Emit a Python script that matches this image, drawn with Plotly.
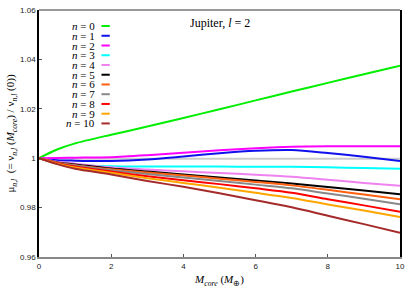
import plotly.graph_objects as go

# Data
m_core = [0, 0.5, 1, 2, 3, 4, 5, 6, 7, 8, 9, 10]
mu_n0 = [1.0, 1.0035, 1.0060, 1.0095, 1.0128, 1.0163, 1.0198, 1.0234, 1.0270, 1.0305, 1.0340, 1.0374]
mu_n1 = [1.0, 0.9992, 0.9990, 0.9989, 0.9995, 1.0007, 1.0020, 1.0030, 1.0033, 1.0021, 1.0006, 0.9989]
mu_n2 = [1.0, 1.0001, 1.0002, 1.0004, 1.0012, 1.0022, 1.0032, 1.0040, 1.0046, 1.0048, 1.0048, 1.0048]
mu_n3 = [1.0, 0.9980, 0.9972, 0.9967, 0.9966, 0.9966, 0.9966, 0.9965, 0.9965, 0.9963, 0.9960, 0.9957]
mu_n4 = [1.0, 0.9986, 0.9978, 0.9963, 0.9954, 0.9947, 0.9940, 0.9933, 0.9925, 0.9913, 0.9900, 0.9888]
mu_n5 = [1.0, 0.9983, 0.9975, 0.9958, 0.9946, 0.9934, 0.9922, 0.9910, 0.9898, 0.9883, 0.9869, 0.9854]
mu_n6 = [1.0, 0.9982, 0.9972, 0.9955, 0.9942, 0.9930, 0.9917, 0.9904, 0.9890, 0.9872, 0.9853, 0.9834]
mu_n7 = [1.0, 0.9981, 0.9970, 0.9951, 0.9936, 0.9922, 0.9908, 0.9893, 0.9878, 0.9857, 0.9836, 0.9814]
mu_n8 = [1.0, 0.9980, 0.9966, 0.9946, 0.9927, 0.9911, 0.9895, 0.9878, 0.9860, 0.9834, 0.9809, 0.9783]
mu_n9 = [1.0, 0.9978, 0.9962, 0.9941, 0.9919, 0.9900, 0.9880, 0.9860, 0.9839, 0.9813, 0.9788, 0.9762]
mu_n10 = [1.0, 0.9976, 0.9957, 0.9934, 0.9908, 0.9884, 0.9858, 0.9830, 0.9801, 0.9767, 0.9733, 0.9698]
reference_x = [0, 10]
reference_y = [0.9998, 0.9998]

series = [mu_n0, mu_n1, mu_n2, mu_n3, mu_n4, mu_n5, mu_n6, mu_n7, mu_n8, mu_n9, mu_n10]
labels = ["0", "1", "2", "3", "4", "5", "6", "7", "8", "9", "10"]
colors = ["#00ee00", "#1010ee", "#ff00ff", "#00ffff", "#ee82ee", "#000000",
          "#ff6010", "#888888", "#ff0000", "#ffa500", "#a52a2a"]

x_ticks = [0, 2, 4, 6, 8, 10]
y_ticks = [0.96, 0.98, 1.0, 1.02, 1.04, 1.06]
y_ticklabels = ["0.96", "0.98", "1", "1.02", "1.04", "1.06"]

fig = go.Figure()
fig.add_trace(go.Scatter(x=reference_x, y=reference_y, mode="lines",
                         line=dict(color="#cccccc", width=2), showlegend=False))
for vals, col in zip(series, colors):
    fig.add_trace(go.Scatter(x=m_core, y=vals, mode="lines",
                             line=dict(color=col, width=2, shape="spline", smoothing=0.8),
                             showlegend=False))

serif = "Liberation Serif"
sans = "Liberation Sans"

annotations = []
shapes = []
# custom gnuplot-style legend (sample line to the right of the label)
for i, (lab, col) in enumerate(zip(labels, colors)):
    py = 26 + 9.73 * i
    yp = (256.7 - py) / 246.7
    annotations.append(dict(xref="paper", yref="paper", x=0.162, y=yp,
                            xanchor="right", yanchor="middle", showarrow=False,
                            text="<i>n</i> = " + lab,
                            font=dict(family=serif, size=11, color="black")))
    shapes.append(dict(type="line", xref="paper", yref="paper",
                       x0=0.173, x1=0.196, y0=yp, y1=yp,
                       line=dict(color=col, width=2)))

annotations.append(dict(xref="paper", yref="paper", x=0.501, y=(256.7 - 23) / 246.7,
                        xanchor="center", yanchor="middle", showarrow=False,
                        text="Jupiter, <i>l</i> = 2",
                        font=dict(family=serif, size=12, color="black")))
shapes.append(dict(type="line", xref="paper", yref="paper", x0=0, x1=1, y0=1, y1=1,
                   line=dict(color="#333333", width=1)))

fig.update_layout(
    template="none",
    width=415, height=291,
    margin=dict(l=39, r=15, t=10, b=34, autoexpand=False),
    plot_bgcolor="white", paper_bgcolor="white",
    annotations=annotations, shapes=shapes,
    xaxis=dict(range=[0, 10], tickvals=x_ticks, ticks="inside", ticklen=3,
               tickcolor="#555", showline=True, linecolor="#888888", linewidth=2,
               showgrid=False, zeroline=False, automargin=False,
               tickfont=dict(family=sans, size=8, color="#222"),
               title=dict(text="<i>M<sub>core</sub></i> (<i>M</i><sub>⊕</sub>)",
                          font=dict(family=serif, size=11, color="black"), standoff=6)),
    yaxis=dict(range=[0.96, 1.06], tickvals=y_ticks, ticktext=y_ticklabels,
               ticks="inside", ticklen=3, tickcolor="#555",
               showline=True, linecolor="black", linewidth=1.5, mirror=True,
               showgrid=False, zeroline=False, automargin=False,
               tickfont=dict(family=sans, size=8, color="#222"),
               title=dict(text="μ<sub><i>n,l</i></sub>  (= ν<sub><i>n,l</i></sub> (<i>M<sub>core</sub></i>) / ν<sub><i>n,l</i></sub> (0))",
                          font=dict(family=serif, size=11, color="black"), standoff=3)),
)

fig.write_html("out.html",
               config={"displayModeBar": False},
               post_script="document.documentElement.style.margin='0';document.body.style.margin='0';document.body.style.padding='0';document.body.style.overflow='hidden';")
